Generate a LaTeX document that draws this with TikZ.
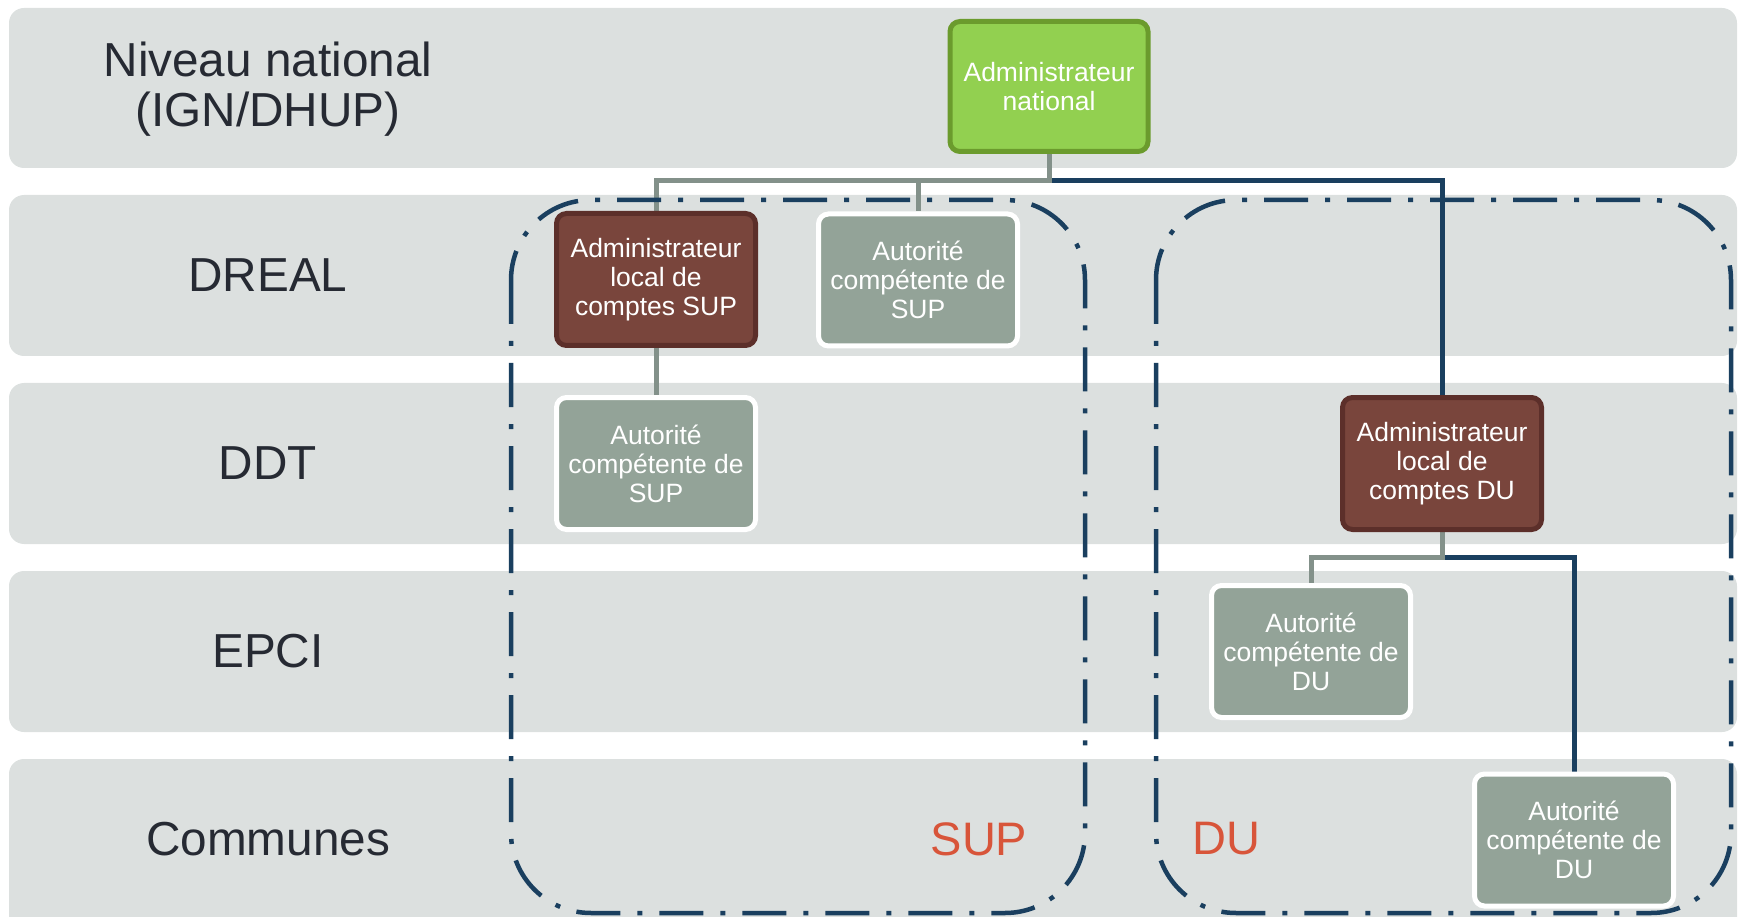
\documentclass[tikz,border=0pt]{standalone}
\usepackage{fontspec}
\setmainfont{Liberation Sans}
\definecolor{bandc}{HTML}{DCE0DF}
\definecolor{lblc}{HTML}{262A33}
\definecolor{greenf}{HTML}{92D050}
\definecolor{greend}{HTML}{6B9B2D}
\definecolor{brownf}{HTML}{79453C}
\definecolor{brownd}{HTML}{5C2F2A}
\definecolor{greyf}{HTML}{93A398}
\definecolor{linegrey}{HTML}{83918A}
\definecolor{navy}{HTML}{1A3F5F}
\definecolor{redc}{HTML}{D8553A}
\pgfdeclarelayer{bottom}
\pgfdeclarelayer{links}
\pgfsetlayers{bottom,links,main}
\begin{document}
\begin{tikzpicture}[x=1pt,y=-1pt,
  band/.style={fill=bandc, rounded corners=15pt},
  lbl/.style={text=lblc, font=\fontsize{47.7}{50}\selectfont, align=center, inner sep=0pt},
  boxbase/.style={rounded corners=10pt, line width=5pt, minimum width=199pt, minimum height=132pt, align=center, text=white, font=\fontsize{26.5}{29}\selectfont, inner sep=0pt},
  natbox/.style={boxbase, fill=greenf, draw=greend},
  admbox/.style={boxbase, fill=brownf, draw=brownd},
  autbox/.style={boxbase, fill=greyf, draw=white},
  gline/.style={draw=linegrey, line width=5pt},
  nline/.style={draw=navy, line width=5pt},
  grpframe/.style={draw=navy, line width=4.5pt, rounded corners=80pt, dash pattern=on 44pt off 17pt on 5pt off 17pt},
  grp/.style={text=redc, font=\fontsize{47}{50}\selectfont, inner sep=0pt}
]
\useasboundingbox (0,0) rectangle (1741,917);
% bands
\begin{pgfonlayer}{bottom}
\fill[band] (9,8) rectangle (1737,168);
\fill[band] (9,195) rectangle (1737,356);
\fill[band] (9,383) rectangle (1737,544);
\fill[band] (9,571) rectangle (1737,732);
\fill[band] (9,759) rectangle (1737,940);
\end{pgfonlayer}
% level labels
\node[lbl] (lnat) at (268,89.5) {Niveau national\\(IGN/DHUP)};
\node[lbl] (ldreal) at (268,275) {DREAL};
\node[lbl] (lddt) at (268,463) {DDT};
\node[lbl] (lepci) at (268,651) {EPCI};
\node[lbl] (lcom) at (268,839) {Communes};
% group frames
\draw[grpframe] (511,200) rectangle (1085,913);
\draw[grpframe] (1156,200) rectangle (1731,913);
\node[grp] (gsup) at (979,839) {SUP};
\node[grp] (gdu) at (1226,839) {DU};
% boxes
\node[natbox, minimum width=198pt, minimum height=130pt] (nat) at (1049,86.5) {Administrateur\\national};
\node[admbox] (admsup) at (656,279.5) {Administrateur\\local de\\comptes SUP};
\node[autbox] (autsup1) at (918,280) {Autorité\\compétente de\\SUP};
\node[autbox] (autsup2) at (656,463.5) {Autorité\\compétente de\\SUP};
\node[admbox] (admdu) at (1442,463.5) {Administrateur\\local de\\comptes DU};
\node[autbox] (autdu1) at (1311,651.5) {Autorité\\compétente de\\DU};
\node[autbox] (autdu2) at (1574,840) {Autorité\\compétente de\\DU};
% connectors
\coordinate (j1) at (1049,181);
\coordinate (j2) at (1442,557);
\begin{pgfonlayer}{links}
\draw[nline] (j1) -| (admdu.north);
\draw[gline] (nat.south) -- (j1) -| (admsup.north);
\draw[gline] (j1) -| (autsup1.north);
\draw[gline] (admsup.south) -- (autsup2.north);
\draw[nline] (j2) -| (autdu2.north);
\draw[gline] (admdu.south) -- (j2) -| (autdu1.north);
\end{pgfonlayer}
\end{tikzpicture}
\end{document}
